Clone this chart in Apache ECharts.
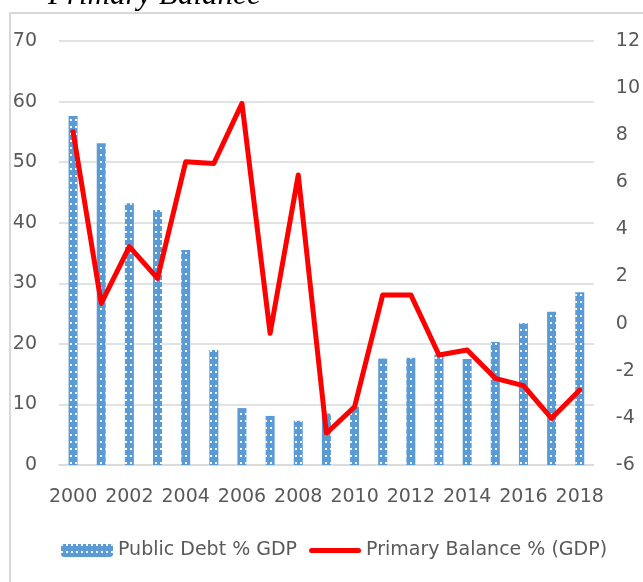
<!DOCTYPE html>
<html>
<head>
<meta charset="utf-8">
<script src="https://cdn.jsdelivr.net/npm/echarts@6/dist/echarts.min.js"></script>
<style>
  html, body { margin: 0; padding: 0; background: #fff; }
  .combo-chart { width: 643px; height: 582px; }
</style>
</head>
<body>
<div class="combo-chart"></div>
<script>
// * 柱状 + 折线 双轴图

const years = ['2000','2001','2002','2003','2004','2005','2006','2007','2008','2009',
  '2010','2011','2012','2013','2014','2015','2016','2017','2018']
// 公共债务 % GDP（左轴）
const debtData = [57.6, 53.1, 43.2, 42.1, 35.5, 19.0, 9.4, 8.1, 7.3, 8.5,
  9.6, 17.6, 17.7, 18.3, 17.5, 20.3, 23.4, 25.3, 28.5]
// 基本余额 % GDP（右轴）
const balanceData = [8.15, 0.86, 3.27, 1.92, 6.87, 6.8, 9.35, -0.41, 6.31, -4.65,
  -3.53, 1.22, 1.22, -1.33, -1.12, -2.32, -2.63, -4.02, -2.82]
const leftTicks = { min: 0, max: 70, interval: 10 }
const rightTicks = { min: -6, max: 12, interval: 2 }

const labelFont = { color: '#595959', fontFamily: 'DejaVu Sans', fontSize: 19 }

const chart = echarts.init(document.querySelector('.combo-chart'))

const option = {
  animation: false,
  graphic: [
    {
      type: 'rect',
      shape: { x: 10, y: 13, width: 1000, height: 1000 },
      style: { fill: 'none', stroke: '#d9d9d9', lineWidth: 2 },
      silent: true
    },
    {
      type: 'text',
      x: 48,
      y: 11,
      style: {
        text: 'Primary Balance',
        font: 'italic 31px "Liberation Serif"',
        fill: '#000',
        verticalAlign: 'bottom'
      },
      silent: true
    }
  ],
  grid: { left: 59, right: 46, top: 41, bottom: 117 },
  legend: {
    left: 56,
    top: 536,
    itemWidth: 52,
    itemHeight: 13,
    itemGap: 12,
    textStyle: labelFont,
    data: [
      { name: 'Public Debt % GDP' },
      {
        name: 'Primary Balance % (GDP)',
        // 图例用粗红线
        icon: 'path://M2.5,0 L49.5,0 A2.5,2.5 0 0 1 49.5,5 L2.5,5 A2.5,2.5 0 0 1 2.5,0 Z'
      }
    ]
  },
  xAxis: {
    type: 'category',
    data: years,
    axisTick: { show: false },
    axisLine: { lineStyle: { color: '#d9d9d9', width: 1.5 } },
    axisLabel: { ...labelFont, interval: 1, margin: 23 }
  },
  yAxis: [
    {
      type: 'value',
      ...leftTicks,
      axisLine: { show: false },
      axisTick: { show: false },
      splitLine: { lineStyle: { color: '#d9d9d9', width: 1.5 } },
      axisLabel: { ...labelFont, margin: 22 }
    },
    {
      type: 'value',
      ...rightTicks,
      axisLine: { show: false },
      axisTick: { show: false },
      splitLine: { show: false },
      axisLabel: { ...labelFont, margin: 22 }
    }
  ],
  series: [
    {
      name: 'Public Debt % GDP',
      type: 'bar',
      data: debtData,
      barWidth: 9,
      itemStyle: {
        color: '#5b9bd5',
        // decal - 白色点状纹理
        decal: {
          symbol: 'rect',
          symbolSize: 1,
          color: 'rgba(255,255,255,0.95)',
          dashArrayX: [1.5, 3],
          dashArrayY: [1.5, 5],
          rotation: 0
        }
      }
    },
    {
      name: 'Primary Balance % (GDP)',
      type: 'line',
      yAxisIndex: 1,
      data: balanceData,
      symbol: 'none',
      itemStyle: { color: '#ff0000' },
      lineStyle: { color: '#ff0000', width: 5, join: 'round', cap: 'round' }
    }
  ]
}

chart.setOption(option)
</script>
</body>
</html>
